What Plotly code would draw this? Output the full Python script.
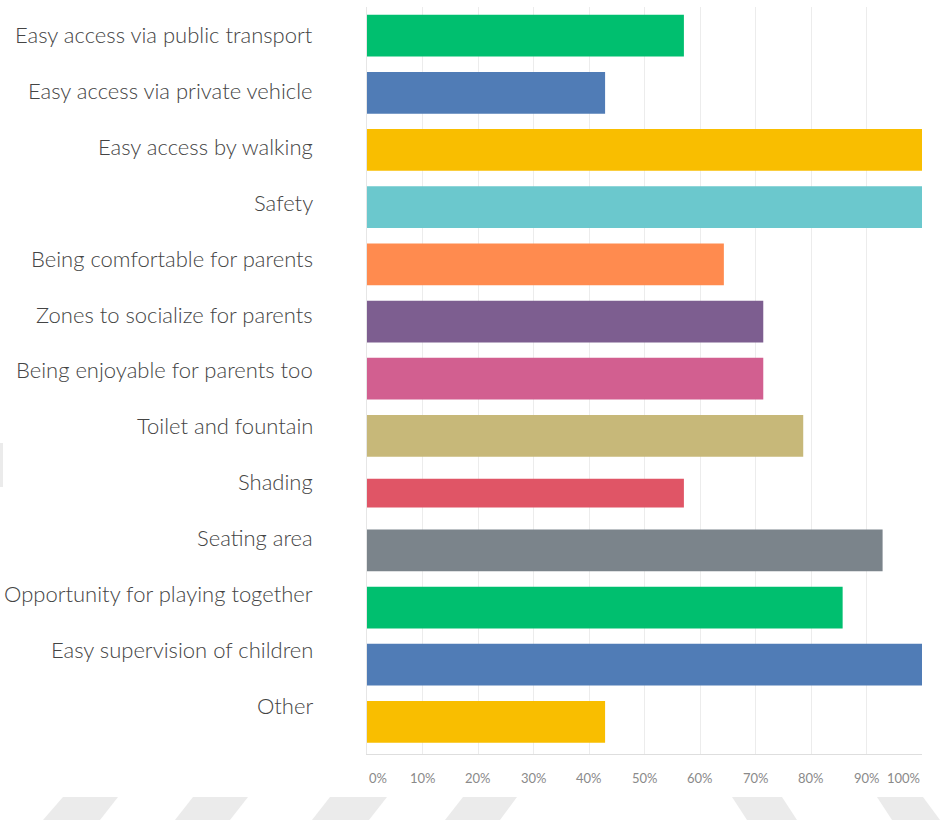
import plotly.graph_objects as go

# Survey results: share of respondents choosing each criterion (%)
categories = [
    "Easy access via public transport",
    "Easy access via private vehicle",
    "Easy access by walking",
    "Safety",
    "Being comfortable for parents",
    "Zones to socialize for parents",
    "Being enjoyable for parents too",
    "Toilet and fountain",
    "Shading",
    "Seating area",
    "Opportunity for playing together",
    "Easy supervision of children",
    "Other",
]
values = [57.1, 42.9, 100.0, 100.0, 64.3, 71.4, 71.4, 78.6, 57.1, 92.9, 85.7, 100.0, 42.9]
tick_values = [0, 10, 20, 30, 40, 50, 60, 70, 80, 90, 100]
tick_labels = ["0%", "10%", "20%", "30%", "40%", "50%", "60%", "70%", "80%", "90%", "100%"]

# Styling
bar_colors = [
    "#00BF6F", "#507CB6", "#F9BE00", "#6BC8CD", "#FF8B4F", "#7D5E90",
    "#D25F90", "#C7B879", "#E05566", "#7B848B", "#00BF6F", "#507CB6", "#F9BE00",
]
bar_widths = [0.73] * len(categories)
bar_widths[8] = 0.5

W, H = 941, 820
ML, MR, MT, MB = 367, 19, 7, 66

fig = go.Figure(
    go.Bar(
        x=values,
        y=categories,
        orientation="h",
        width=bar_widths,
        marker=dict(color=bar_colors, line=dict(width=0)),
        hoverinfo="x+y",
    )
)

# Category labels: right-aligned text to the left of the plot area
label_font = dict(family="Lato, 'Noto Sans', sans-serif", size=22, weight=300, color="#444444")
for i, cat in enumerate(categories):
    fig.add_annotation(
        x=0, xref="paper", y=cat, yref="y",
        text=cat, showarrow=False,
        xanchor="right", yanchor="middle",
        xshift=-52, yshift=1.3 * i + 1,
        font=label_font,
    )

# Percent tick labels below the axis; the outer two are aligned inward
tick_font = dict(family="Lato, 'Noto Sans', sans-serif", size=13, color="#8a8a8a")
for v, t in zip(tick_values, tick_labels):
    anchor = "left" if v == tick_values[0] else ("right" if v == tick_values[-1] else "center")
    fig.add_annotation(
        x=v, xref="x", y=0, yref="paper",
        text=t, showarrow=False,
        xanchor=anchor, yanchor="middle", yshift=-24,
        font=tick_font,
    )

# Faint background watermark shapes along the bottom edge
def px_to_paper(px, py):
    return (px - ML) / (W - ML - MR), (H - MB - py) / (H - MT - MB)

watermark = [
    [(63, 797), (118, 797), (100, 820), (43, 820)],
    [(193, 797), (248, 797), (230, 820), (175, 820)],
    [(330, 797), (387, 797), (369, 820), (312, 820)],
    [(463, 797), (517, 797), (500, 820), (445, 820)],
    [(732, 797), (782, 797), (797, 820), (747, 820)],
    [(877, 797), (923, 797), (940, 820), (892, 820)],
    [(0, 443), (3, 443), (3, 487), (0, 487)],
]
for poly in watermark:
    pts = [px_to_paper(x, y) for x, y in poly]
    path = "M " + " L ".join(f"{x:.5f},{y:.5f}" for x, y in pts) + " Z"
    fig.add_shape(type="path", path=path, xref="paper", yref="paper",
                  fillcolor="#ebebeb", line=dict(width=0), layer="below")

fig.update_layout(
    width=W, height=H,
    margin=dict(l=ML, r=MR, t=MT, b=MB),
    paper_bgcolor="white", plot_bgcolor="white",
    showlegend=False,
    bargap=0.27,
    xaxis=dict(
        range=[0, 100], tickvals=tick_values, showticklabels=False,
        showgrid=True, gridcolor="#ececec", gridwidth=1,
        zeroline=False, showline=True, linecolor="#dedede", linewidth=1,
        fixedrange=True,
    ),
    yaxis=dict(
        categoryorder="array", categoryarray=categories,
        autorange="reversed", showticklabels=False,
        showgrid=False, zeroline=False,
        showline=True, linecolor="#e6e6e6", linewidth=1,
        fixedrange=True,
    ),
)

fig.write_html("out.html")
